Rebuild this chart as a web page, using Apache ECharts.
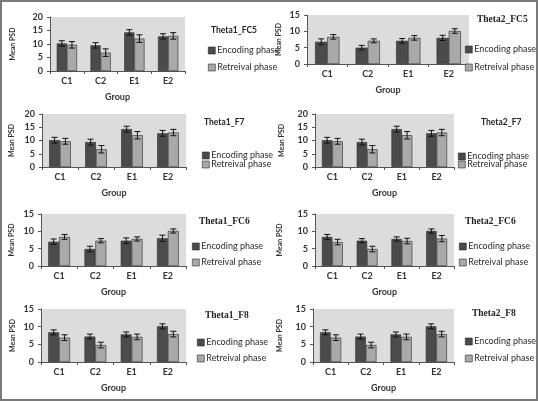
<!DOCTYPE html>
<html><head><meta charset="utf-8">
<script src="https://cdn.jsdelivr.net/npm/echarts@6/dist/echarts.min.js"></script>
<style>html,body{margin:0;padding:0;background:#fff}#c{width:538px;height:401px;box-sizing:border-box;border:2px solid #7a7a7a}</style>
</head><body><div id="c"></div>
<script>
const categories = ['C1','C2','E1','E2'];
const seriesNames = ['Encoding phase','Retreival phase'];
const panelTitles = ['Theta1_FC5','Theta2_FC5','Theta1_F7','Theta2_F7','Theta1_FC6','Theta2_FC6','Theta1_F8','Theta2_F8'];
const yMaxes = [20,15,20,20,15,15,15,15];

const t1fc5Enc = [10.2, 9.5, 14.3, 12.8];
const t1fc5EncErr = [1.0, 1.0, 1.0, 1.0];
const t1fc5Ret = [9.7, 6.8, 12.0, 13.0];
const t1fc5RetErr = [1.2, 1.4, 1.4, 1.2];

const t2fc5Enc = [6.8, 5.0, 7.1, 8.0];
const t2fc5EncErr = [0.9, 0.7, 0.7, 0.8];
const t2fc5Ret = [8.3, 7.1, 8.0, 10.1];
const t2fc5RetErr = [0.7, 0.6, 0.7, 0.7];

const t1f7Enc = [10.1, 9.4, 14.3, 12.7];
const t1f7EncErr = [1.1, 1.1, 1.1, 1.1];
const t1f7Ret = [9.7, 6.7, 12.0, 13.0];
const t1f7RetErr = [1.1, 1.4, 1.4, 1.2];

const t2f7Enc = [10.1, 9.4, 14.3, 12.7];
const t2f7EncErr = [1.1, 1.1, 1.1, 1.1];
const t2f7Ret = [9.7, 6.7, 12.0, 13.0];
const t2f7RetErr = [1.1, 1.4, 1.4, 1.2];

const t1fc6Enc = [7.0, 4.9, 7.3, 8.0];
const t1fc6EncErr = [0.8, 0.8, 0.8, 0.9];
const t1fc6Ret = [8.4, 7.3, 7.8, 10.1];
const t1fc6RetErr = [0.7, 0.6, 0.6, 0.6];

const t2fc6Enc = [8.4, 7.3, 7.8, 10.1];
const t2fc6EncErr = [0.7, 0.6, 0.6, 0.6];
const t2fc6Ret = [6.9, 4.9, 7.2, 7.9];
const t2fc6RetErr = [0.8, 0.8, 0.8, 0.9];

const t1f8Enc = [8.4, 7.2, 7.8, 10.1];
const t1f8EncErr = [0.7, 0.7, 0.7, 0.7];
const t1f8Ret = [6.9, 4.8, 7.1, 7.9];
const t1f8RetErr = [0.8, 0.8, 0.8, 0.8];

const t2f8Enc = [8.4, 7.2, 7.8, 10.1];
const t2f8EncErr = [0.7, 0.7, 0.7, 0.7];
const t2f8Ret = [6.9, 4.8, 7.1, 7.9];
const t2f8RetErr = [0.8, 0.8, 0.8, 0.8];

const panelData = [
  [t1fc5Enc, t1fc5EncErr, t1fc5Ret, t1fc5RetErr],
  [t2fc5Enc, t2fc5EncErr, t2fc5Ret, t2fc5RetErr],
  [t1f7Enc, t1f7EncErr, t1f7Ret, t1f7RetErr],
  [t2f7Enc, t2f7EncErr, t2f7Ret, t2f7RetErr],
  [t1fc6Enc, t1fc6EncErr, t1fc6Ret, t1fc6RetErr],
  [t2fc6Enc, t2fc6EncErr, t2fc6Ret, t2fc6RetErr],
  [t1f8Enc, t1f8EncErr, t1f8Ret, t1f8RetErr],
  [t2f8Enc, t2f8EncErr, t2f8Ret, t2f8RetErr]
];

// layout: grid [left, top, width, height], title [x, y, serif], legend [x, y1, y2], y-name gap
const grids = [
  [48,15,135,54],[305,13,162,49],[40,112,144,53],[313,112,139,53],
  [39,212,145,52],[313,212,139,52],[39,307,145,53],[311,307,141,53]
];
const titlePos = [
  [209,24,false],[475,13,true],[202,116,false],[479,116,false],
  [197,215,true],[463,215,true],[203,309,true],[470,307,true]
];
const legendPos = [
  [206,44,61],[463,43,61],[200,149,158],[456,150,158],
  [190,240,256],[457,240,256],[195,336,352],[463,335,352]
];
const yNameGaps = [34,25,27,30,26,32,25,30];

const colors = ['#4b4b4b','#a9a9a9'];
const CAT_GAP = 0.4;

const option = {animation:false, grid:[], xAxis:[], yAxis:[], series:[], title:[], legend:[]};

grids.forEach((g,i)=>{
  option.grid.push({left:g[0], top:g[1], width:g[2], height:g[3], show:true, backgroundColor:'#dcdcdc', borderWidth:0});
  option.xAxis.push({gridIndex:i, type:'category', data:categories, name:'Group', nameLocation:'middle', nameGap:22,
    nameTextStyle:{fontFamily:'Lato', fontWeight:'bold', fontSize:9, color:'#333'},
    axisLine:{lineStyle:{color:'#555', width:1}}, axisTick:{show:true, length:3, lineStyle:{color:'#555'}},
    axisLabel:{fontFamily:'Lato', fontWeight:'bold', fontSize:9, color:'#333', margin:6}});
  option.yAxis.push({gridIndex:i, type:'value', min:0, max:yMaxes[i], interval:5, name:'Mean PSD', nameLocation:'middle',
    nameGap: yNameGaps[i],
    nameTextStyle:{fontFamily:'Lato', fontWeight:'bold', fontSize:7, color:'#333'},
    splitLine:{show:false}, axisLine:{show:true, lineStyle:{color:'#555'}}, axisTick:{show:true, length:3, lineStyle:{color:'#555'}},
    axisLabel:{fontFamily:'Lato', fontWeight:'bold', fontSize:9, color:'#333', margin:7}});
  const d = panelData[i];
  [0,1].forEach(s=>{
    const vals = d[s*2], errs = d[s*2+1];
    option.series.push({type:'bar', name:seriesNames[s], xAxisIndex:i, yAxisIndex:i, data:vals,
      barGap:'0%', barCategoryGap:(CAT_GAP*100)+'%',
      itemStyle:{color:colors[s], borderColor:'#2a2a2a', borderWidth:0.6}});
    option.series.push({type:'custom', xAxisIndex:i, yAxisIndex:i, z:5, silent:true,
      data: vals.map((v,k)=>[k, v, errs[k]]),
      renderItem:(params, api)=>{
        const k = api.value(0), v = api.value(1), e = api.value(2);
        const band = api.size([1,0])[0];
        const bw = band*(1-CAT_GAP)/2;
        const c = api.coord([k, v]);
        const x = c[0] + (s===0 ? -bw/2 : bw/2);
        const yt = api.coord([k, v+e])[1], yb = api.coord([k, v-e])[1];
        const cap = 3;
        const st = {stroke:'#111', lineWidth:1};
        return {type:'group', children:[
          {type:'line', shape:{x1:x,y1:yt,x2:x,y2:yb}, style:st},
          {type:'line', shape:{x1:x-cap,y1:yt,x2:x+cap,y2:yt}, style:st},
          {type:'line', shape:{x1:x-cap,y1:yb,x2:x+cap,y2:yb}, style:st}
        ]};
      }});
  });
  const tp = titlePos[i];
  option.title.push({text:panelTitles[i], left:tp[0], top:tp[1], padding:0,
    textStyle:{fontFamily: tp[2] ? 'Liberation Serif' : 'Lato', fontWeight:'bold', fontSize: tp[2] ? 9.5 : 8.5, color:'#222'}});
  const lp = legendPos[i];
  [0,1].forEach(s=>{
    option.legend.push({data:[seriesNames[s]], left:lp[0], top:lp[1+s], padding:0, itemWidth:7, itemHeight:7, itemGap:2,
      selectedMode:false, icon:'rect',
      itemStyle:{borderColor:'#2a2a2a', borderWidth:0.6},
      textStyle:{fontFamily:'Lato', fontSize:9, color:'#2a2a2a', padding:[0,0,0,-3]}});
  });
});

const chart = echarts.init(document.getElementById('c'), null, {renderer:'canvas'});
chart.setOption(option);
</script></body></html>
